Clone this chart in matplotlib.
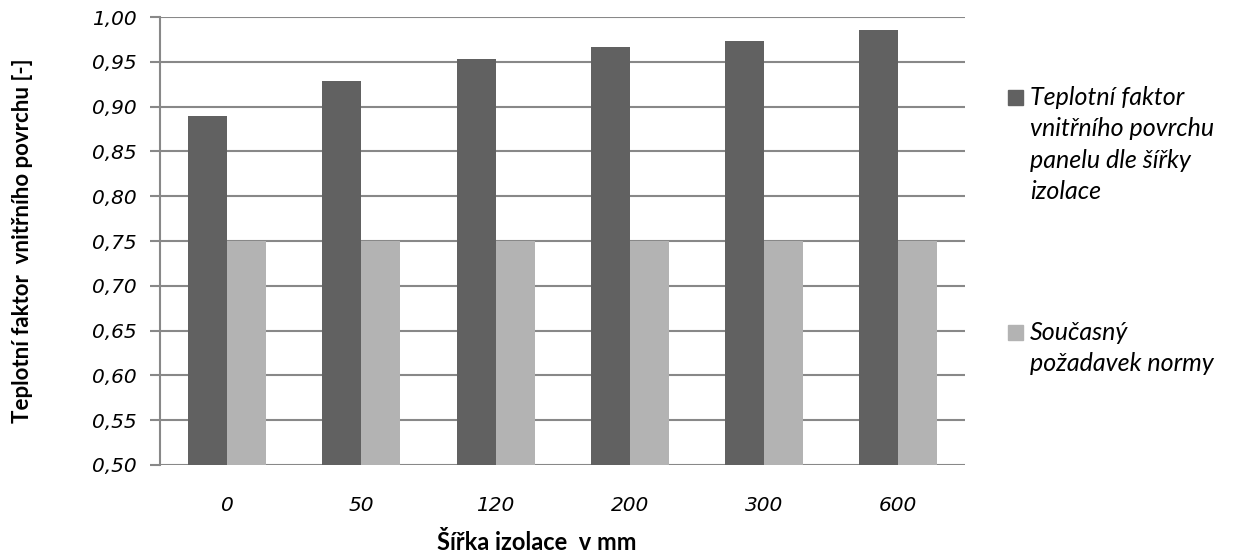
import numpy as np
import matplotlib.pyplot as plt
from matplotlib.patches import Rectangle

# Data
sirka = ['0', '50', '120', '200', '300', '600']
faktor = [0.889, 0.929, 0.953, 0.967, 0.973, 0.985]
norma = [0.75, 0.75, 0.75, 0.75, 0.75, 0.75]
nazvy = ['Teplotní faktor\nvnitřního povrchu\npanelu dle šířky\nizolace',
         'Současný\npožadavek normy']
barvy = ['#616161', '#b3b3b3']

fig = plt.figure(figsize=(12.36, 5.58), dpi=100)
ax = fig.add_axes([0.1295, 0.1667, 0.6515, 0.8028])

x = np.arange(len(sirka))
w = 0.29
ax.bar(x - w / 2, faktor, w, color=barvy[0], zorder=2)
ax.bar(x + w / 2, norma, w, color=barvy[1], zorder=2)

ax.set_xlim(-0.5, len(sirka) - 0.5)
ax.set_ylim(0.5, 1.0)
ax.set_yticks(np.arange(0.5, 1.001, 0.05))
ax.set_yticklabels([f'{v:.2f}'.replace('.', ',') for v in np.arange(0.5, 1.001, 0.05)],
                   fontsize=14.5, style='italic')
ax.set_xticks(x)
ax.set_xticklabels(sirka, fontsize=14.5, style='italic')
ax.tick_params(axis='x', length=0, pad=22)
ax.tick_params(axis='y', length=7, width=1.5, color='#888888', pad=10)
ax.grid(axis='y', color='#888888', linewidth=1.5, zorder=0)
for s in ['top', 'right', 'bottom']:
    ax.spines[s].set_visible(False)
ax.spines['left'].set_color('#888888')
ax.spines['left'].set_linewidth(1.5)

ax.set_xlabel('Šířka izolace  v mm', fontsize=17, fontweight='bold', family='Lato')
ax.set_ylabel('Teplotní faktor  vnitřního povrchu [-]', fontsize=16, fontweight='bold', family='Lato')
ax.xaxis.set_label_coords(0.468, -0.147)
ax.yaxis.set_label_coords(-0.158, 0.5)

# legenda
ly = [1 - 97.5 / 558, 1 - 332.5 / 558]
for nazev, barva, yy in zip(nazvy, barvy, ly):
    fig.patches.append(Rectangle((1008 / 1236, yy - 7.5 / 558), 15 / 1236, 15 / 558,
                                 transform=fig.transFigure, color=barva))
    fig.text(1030 / 1236, yy + 12 / 558, nazev, fontsize=18, style='italic', family='Lato',
             va='top', ha='left', linespacing=1.45)

plt.savefig('out.png')
